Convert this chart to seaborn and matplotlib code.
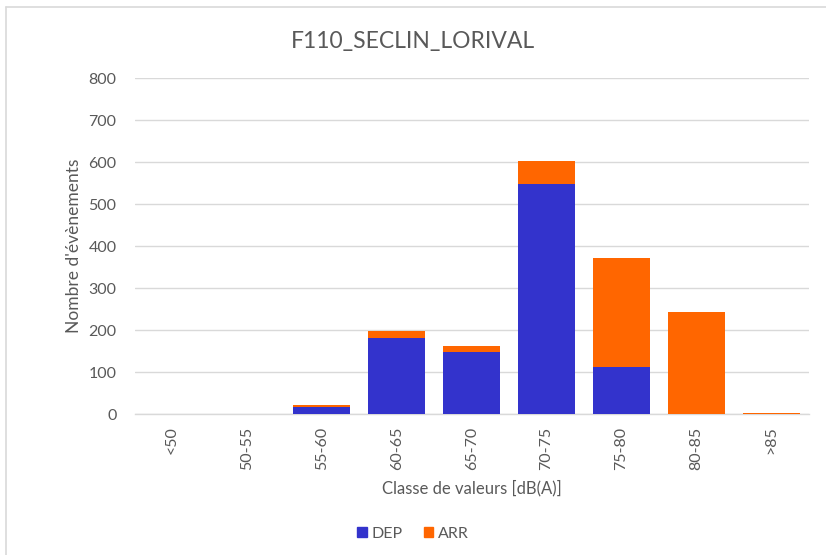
import pandas as pd
import numpy as np
import matplotlib.pyplot as plt
import seaborn as sns
from matplotlib.patches import Patch
from matplotlib.lines import Line2D

# Data
classes = ["<50", "50-55", "55-60", "60-65", "65-70", "70-75", "75-80", "80-85", ">85"]
dep = [0, 0, 17, 182, 148, 548, 112, 0, 0]
arr = [0, 0, 4, 16, 14, 54, 259, 242, 3]

df = pd.DataFrame({"classe": classes, "DEP": dep, "ARR": arr})
df["total"] = df["DEP"] + df["ARR"]

sns.set_theme(style="white")
plt.rcParams['font.family'] = ['Lato', 'DejaVu Sans']

blue = "#3333CC"
orange = "#FF6600"
grey = "#595959"

fig = plt.figure(figsize=(8.26, 5.55), dpi=100)
ax = fig.add_axes([0.163, 0.254, 0.816, 0.605])

# stacked bars: total in orange, DEP on top of it in blue
sns.barplot(data=df, x="classe", y="total", color=orange, width=0.76,
            saturation=1, linewidth=0, ax=ax, zorder=3)
sns.barplot(data=df, x="classe", y="DEP", color=blue, width=0.76,
            saturation=1, linewidth=0, ax=ax, zorder=3)

# empty bars would still leave a hairline
for p in ax.patches:
    if p.get_height() == 0:
        p.set_visible(False)

ax.set_ylim(0, 800)
ax.set_xlim(-0.5, len(classes) - 0.5)
ax.set_yticks(range(0, 801, 100))
ax.yaxis.grid(True, color="#D9D9D9", linewidth=1)
ax.set_axisbelow(True)
for s in ["top", "right", "left"]:
    ax.spines[s].set_visible(False)
ax.spines["bottom"].set_color("#D9D9D9")
ax.spines["bottom"].set_linewidth(1)

ax.tick_params(axis="y", labelsize=11.5, colors=grey, length=0, pad=13)
ax.tick_params(axis="x", labelsize=11.5, colors=grey, length=0, pad=9)
plt.setp(ax.get_xticklabels(), rotation=90)

ax.set_xlabel("Classe de valeurs [dB(A)]", fontsize=12, color=grey, labelpad=7)
ax.set_ylabel("Nombre d'évènements", fontsize=12.5, color=grey, labelpad=5)

fig.text(0.5, 0.925, "F110_SECLIN_LORIVAL", ha="center", va="center",
         fontsize=16.5, color=grey)

handles = [Patch(facecolor=blue, edgecolor=blue), Patch(facecolor=orange, edgecolor=orange)]
fig.legend(handles, ["DEP", "ARR"], loc="center", bbox_to_anchor=(0.5, 0.038),
           ncol=2, frameon=False, fontsize=11.5, handlelength=0.6, handleheight=0.6,
           handletextpad=0.3, columnspacing=1.3, labelcolor=grey)

# chart border (Excel style)
fig.add_artist(Line2D([0.007, 0.007], [0.0, 0.988], color="#D9D9D9", lw=1.2, transform=fig.transFigure))
fig.add_artist(Line2D([0.007, 1.0], [0.988, 0.988], color="#D9D9D9", lw=1.2, transform=fig.transFigure))

fig.savefig("out.png", dpi=100)
